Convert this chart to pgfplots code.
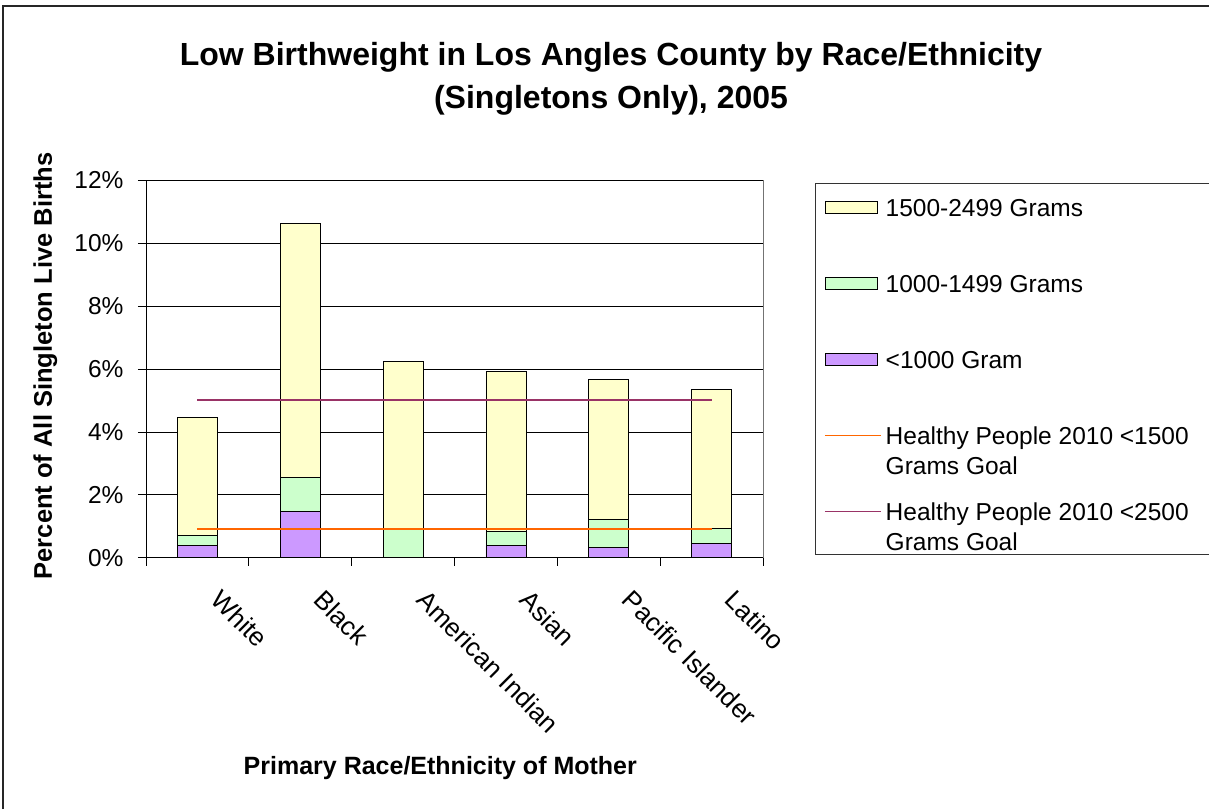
\documentclass[border=0pt]{standalone}
\usepackage{fontspec}
\setmainfont{Liberation Sans}
\usepackage{pgfplots}
\usepackage{pgfplotstable}
\pgfplotsset{compat=1.18}
\definecolor{cA}{HTML}{FFFFCC}
\definecolor{cB}{HTML}{CCFFCC}
\definecolor{cC}{HTML}{CC99FF}
\definecolor{lo}{HTML}{FF6600}
\definecolor{lp}{HTML}{993366}
\pgfplotsset{
  rectleg/.style={legend image code/.code={\draw[##1] (0pt,2.8pt) rectangle (52pt,14.8pt);}},
  lineleg/.style={legend image code/.code={\draw[##1] (0pt,8.8pt) -- (56pt,8.8pt);}},
}
\newcommand{\legone}[1]{\rule{0pt}{20pt}\smash{\parbox[t]{312pt}{\raggedright #1}}}
\newcommand{\legtwo}[2]{\rule{0pt}{20pt}\smash{\parbox[t]{312pt}{\raggedright #1\newline #2}}}

\pgfplotstableread{
x lt1000 g1000 g1500
0 0.38 0.33 3.76
1 1.47 1.09 8.06
2 0.00 0.89 5.35
3 0.38 0.45 5.10
4 0.32 0.89 4.46
5 0.44 0.50 4.40
}\bw

\pgfplotstableread{
x low high
0 0.9 5.0
5 0.9 5.0
}\goals

\begin{document}
\begin{tikzpicture}
\path[use as bounding box] (0pt,0pt) rectangle (1209pt,809pt);
\draw[line width=1.5pt, black!85] (3pt,0pt) -- (3pt,803pt) -- (1209pt,803pt);
\node[font=\fontsize{32}{43}\selectfont\bfseries, align=center] at (611pt,730pt)
  {Low Birthweight in Los Angles County by Race/Ethnicity\\(Singletons Only), 2005};

\begin{axis}[
  at={(146pt,251.3pt)}, anchor=south west,
  scale only axis, width=617pt, height=377.4pt,
  xmin=-0.5, xmax=5.5, ymin=0, ymax=12,
  ybar stacked, bar width=40pt,
  axis x line*=bottom, axis y line*=left,
  axis line style={black, line width=0.8pt},
  tick align=outside, major tick length=8pt,
  tick style={black, line width=0.8pt},
  xtick={-0.5,0.5,...,5.5}, xticklabels={},
  extra x ticks={0,1,2,3,4,5},
  extra x tick labels={White,Black,American Indian,Asian,Pacific Islander,Latino},
  extra x tick style={major tick length=0pt, xticklabel style={font=\fontsize{26}{30}\selectfont, inner sep=0pt, xshift=25.5pt, yshift=-30.6pt, rotate=-45, anchor=north west}},
  ytick={0,2,...,12},
  yticklabels={0\%,2\%,4\%,6\%,8\%,10\%,12\%},
  yticklabel style={xshift=-11pt},
  ticklabel style={font=\fontsize{24.5}{30}\selectfont},
  ymajorgrids, grid style={black, line width=0.8pt},
  xlabel={Primary Race/Ethnicity of Mother},
  xlabel style={font=\fontsize{25}{30}\selectfont\bfseries, at={(axis description cs:0.477,-0.557)}, anchor=center},
  ylabel={Percent of All Singleton Live Births},
  ylabel style={font=\fontsize{25.5}{30}\selectfont\bfseries, at={(axis description cs:-0.163,0.508)}, anchor=center},
  legend style={at={(axis description cs:1.0843,0.9902)}, anchor=north west,
    draw=none, fill=none, inner xsep=9pt, inner ysep=12pt,
    row sep=54.5pt, column sep=4pt,
    font=\fontsize{24.5}{30}\selectfont,
    cells={anchor=base west},
    nodes={inner sep=0pt}},
]
\addplot[fill=cC, draw=black, line width=0.8pt, forget plot] table[x=x,y=lt1000]{\bw};
\addplot[fill=cB, draw=black, line width=0.8pt, forget plot] table[x=x,y=g1000]{\bw};
\addplot[fill=cA, draw=black, line width=0.8pt, forget plot] table[x=x,y=g1500]{\bw};

\addlegendimage{fill=cA, draw=black, line width=0.8pt, rectleg}
\addlegendentry{\legone{1500-2499 Grams}}
\addlegendimage{fill=cB, draw=black, line width=0.8pt, rectleg}
\addlegendentry{\legone{1000-1499 Grams}}
\addlegendimage{fill=cC, draw=black, line width=0.8pt, rectleg}
\addlegendentry{\legone{<1000 Gram}}
\addlegendimage{draw=lo, line width=1.5pt, lineleg}
\addlegendentry{\legtwo{Healthy People 2010 <1500}{Grams Goal}}
\addlegendimage{draw=lp, line width=1.5pt, lineleg}
\addlegendentry{\legtwo{Healthy People 2010 <2500}{Grams Goal}}
\end{axis}

\begin{axis}[
  at={(146pt,251.3pt)}, anchor=south west,
  scale only axis, width=617pt, height=377.4pt,
  xmin=-0.5, xmax=5.5, ymin=0, ymax=12,
  axis x line=none, axis y line*=right, ytick=\empty,
  axis line style={black!55, line width=1pt},
]
\addplot[lo, line width=2pt] table[x=x,y=low]{\goals};
\addplot[lp, line width=2pt] table[x=x,y=high]{\goals};
\end{axis}
\draw[black!80, line width=1pt] (1209pt,625pt) -- (815pt,625pt) -- (815pt,255pt) -- (1209pt,255pt);
\end{tikzpicture}
\end{document}
